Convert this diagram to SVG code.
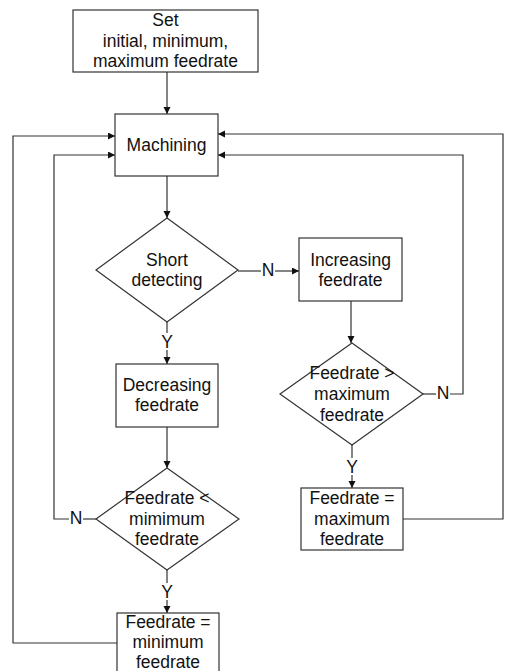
<svg xmlns="http://www.w3.org/2000/svg" width="506" height="671" viewBox="0 0 506 671">
<style>
.box{fill:#fff;stroke:#333;stroke-width:1.2}
.t{font-family:"Liberation Sans",Arial,sans-serif;font-size:17.5px;fill:#111;text-anchor:middle}
.c{fill:none;stroke:#333;stroke-width:1.2}
</style>
<defs>
<marker id="ah" markerUnits="userSpaceOnUse" markerWidth="8" markerHeight="8" refX="7" refY="3.5" orient="auto">
<path d="M0,0 L7,3.5 L0,7 z" fill="#111"/>
</marker>
</defs>
<rect width="506" height="671" fill="#fff"/>
<g id="connectors">
<path class="c" d="M167,72 V114" marker-end="url(#ah)"/>
<path class="c" d="M167,176 V218" marker-end="url(#ah)"/>
<path class="c" d="M238,271 H261"/>
<path class="c" d="M275,271 H299" marker-end="url(#ah)"/>
<path class="c" d="M351,301 V343" marker-end="url(#ah)"/>
<path class="c" d="M423,394 H436"/>
<path class="c" d="M450,394 H463 V155 H218" marker-end="url(#ah)"/>
<path class="c" d="M352,445 V458"/>
<path class="c" d="M352,475 V488" marker-end="url(#ah)"/>
<path class="c" d="M403,519 H503 V134 H218" marker-end="url(#ah)"/>
<path class="c" d="M167,322 V333"/>
<path class="c" d="M167,350 V364" marker-end="url(#ah)"/>
<path class="c" d="M167,427 V468" marker-end="url(#ah)"/>
<path class="c" d="M96,519 H83"/>
<path class="c" d="M69,519 H54 V155 H115" marker-end="url(#ah)"/>
<path class="c" d="M167,570 V583"/>
<path class="c" d="M167,600 V613" marker-end="url(#ah)"/>
<path class="c" d="M117,643 H13 V136 H115" marker-end="url(#ah)"/>
<text class="t" x="268" y="276">N</text>
<text class="t" x="443" y="399">N</text>
<text class="t" x="76" y="524">N</text>
<text class="t" x="167" y="348">Y</text>
<text class="t" x="352" y="473">Y</text>
<text class="t" x="167" y="598">Y</text>
</g>
<g id="set">
<rect class="box" x="73" y="10" width="185" height="62"/>
<text class="t" x="165.5" y="26">Set</text>
<text class="t" x="165.5" y="47">initial, minimum,</text>
<text class="t" x="165.5" y="67">maximum feedrate</text>
</g>
<g id="machining">
<rect class="box" x="115" y="114" width="103" height="62"/>
<text class="t" x="166.5" y="151">Machining</text>
</g>
<g id="short">
<polygon class="box" points="167,218 238,270 167,322 96,270"/>
<text class="t" x="167" y="266">Short</text>
<text class="t" x="167" y="286">detecting</text>
</g>
<g id="increasing">
<rect class="box" x="299" y="238" width="103" height="63"/>
<text class="t" x="350.5" y="266">Increasing</text>
<text class="t" x="350.5" y="286">feedrate</text>
</g>
<g id="checkmax">
<polygon class="box" points="352,343 423,394 352,445 280,394"/>
<text class="t" x="352" y="379">Feedrate &gt;</text>
<text class="t" x="352" y="400">maximum</text>
<text class="t" x="352" y="421">feedrate</text>
</g>
<g id="decreasing">
<rect class="box" x="116" y="364" width="102" height="63"/>
<text class="t" x="167" y="391">Decreasing</text>
<text class="t" x="167" y="411">feedrate</text>
</g>
<g id="checkmin">
<polygon class="box" points="167,468 239,519 167,570 96,519"/>
<text class="t" x="167" y="504">Feedrate &lt;</text>
<text class="t" x="167" y="525">mimimum</text>
<text class="t" x="167" y="545">feedrate</text>
</g>
<g id="setmax">
<rect class="box" x="301" y="488" width="102" height="62"/>
<text class="t" x="352" y="504">Feedrate =</text>
<text class="t" x="352" y="525">maximum</text>
<text class="t" x="352" y="545">feedrate</text>
</g>
<g id="setmin">
<rect class="box" x="117" y="613" width="102" height="70"/>
<text class="t" x="168" y="628">Feedrate =</text>
<text class="t" x="168" y="648">minimum</text>
<text class="t" x="168" y="668">feedrate</text>
</g>
</svg>
